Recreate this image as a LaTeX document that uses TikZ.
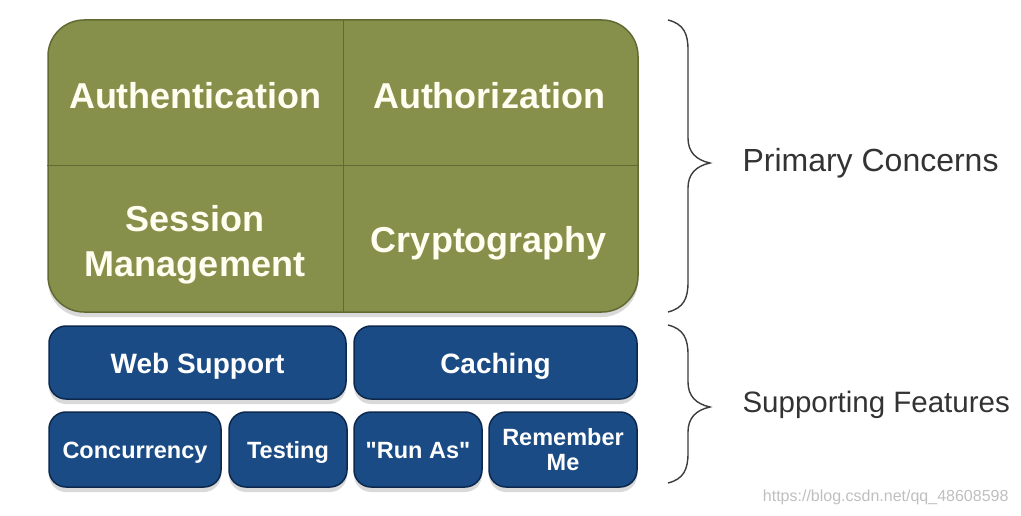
\documentclass[tikz,border=0pt]{standalone}
\usepackage{fontspec}
\setmainfont{Liberation Sans}
\usetikzlibrary{shadows,positioning}
\definecolor{olivebox}{RGB}{134,144,74}
\definecolor{olivedark}{RGB}{96,106,50}
\definecolor{navybox}{RGB}{27,75,132}
\definecolor{navydark}{RGB}{12,40,78}
\definecolor{bracegray}{RGB}{60,60,60}

\tikzset{
  concern/.style={font=\bfseries\fontsize{36}{45}\selectfont, text=white!94!yellow, align=center},
  featbox/.style={draw=navydark, line width=1.5pt, fill=navybox, rounded corners=17pt,
    text=white, font=\bfseries\fontsize{28}{30}\selectfont, align=center, inner sep=0pt,
    drop shadow={opacity=.3, shadow xshift=0pt, shadow yshift=-5pt}},
  widefeat/.style={featbox, text height=22pt, text depth=0pt},
  smallfeat/.style={featbox, font=\bfseries\fontsize{23.5}{25}\selectfont},
  onelinefeat/.style={smallfeat, text height=17.5pt, text depth=0pt},
  sidelabel/.style={anchor=west, text=black!80, font=\fontsize{32}{36}\selectfont},
}

\begin{document}
\begin{tikzpicture}[x=1pt,y=-1pt]
    \useasboundingbox (0,0) rectangle (1021,516);
    % primary concerns block
    \node[draw=olivedark, line width=1.5pt, fill=olivebox, rounded corners=36pt,
      minimum width=590pt, minimum height=292pt,
      drop shadow={opacity=.3, shadow xshift=0pt, shadow yshift=-5pt}] (prim) at (343,166) {};
    \draw[olivedark, line width=1pt] (prim.north) -- (prim.south);
    \draw[olivedark, line width=1pt] (prim.west) -- (prim.east);
    \node[concern] (authn) at (195,96) {Authentication};
    \node[concern] (authz) at (489,96) {Authorization};
    \node[concern] (session) at (195,245) {Session\\Management};
    \node[concern] (crypto) at (489,243) {Cryptography};
    % supporting features
    \node[widefeat, minimum width=297pt, minimum height=73pt] (web) at (197.5,362.5) {Web Support};
    \node[widefeat, minimum width=283pt, minimum height=73pt] (cache) at (495.5,362.5) {Caching};
    \node[onelinefeat, minimum width=172pt, minimum height=75pt] (conc) at (135,449.5) {Concurrency};
    \node[onelinefeat, minimum width=118pt, minimum height=75pt] (test) at (288,449.5) {Testing};
    \node[onelinefeat, minimum width=128pt, minimum height=75pt] (runas) at (418,449.5) {\textquotedbl Run As\textquotedbl};
    \node[smallfeat, minimum width=148pt, minimum height=75pt] (remember) at (563,449.5) {Remember\\Me};
    % braces
    \foreach \top/\tip/\bot in {20/163/312, 325/407/483}
    \draw[bracegray, line width=1.4pt] (668,\top) .. controls (684,\top+4) and (688,\top+14) .. (688,\top+30)
      -- (688,\tip-25) .. controls (688,\tip-11) and (696,\tip-3) .. (710,\tip)
      .. controls (696,\tip+3) and (688,\tip+11) .. (688,\tip+25)
      -- (688,\bot-30) .. controls (688,\bot-14) and (684,\bot-4) .. (668,\bot);
    \node[sidelabel] (primlabel) at (739,163) {Primary Concerns};
    \node[sidelabel, font=\fontsize{29.5}{34}\selectfont] (featlabel) at (739,405) {Supporting Features};
    \node[anchor=east, text=black!25, font=\fontsize{16}{18}\selectfont] (mark) at (1012,497) {https://blog.csdn.net/qq\_48608598};
\end{tikzpicture}
\end{document}
